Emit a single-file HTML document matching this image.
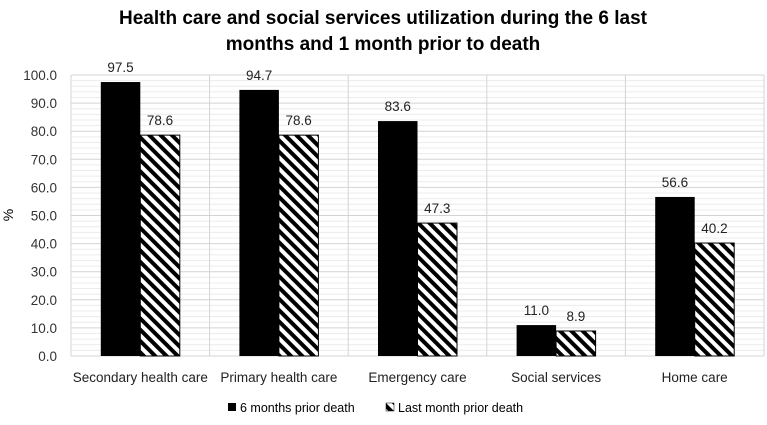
<!DOCTYPE html>
<html><head><meta charset="utf-8"><style>
body{margin:0;background:#fff;font-family:"Liberation Sans",sans-serif}
</style></head><body>
<svg id="c" width="767" height="420" xmlns="http://www.w3.org/2000/svg">
<defs><pattern id="hatch" patternUnits="userSpaceOnUse" width="8" height="8" patternTransform="rotate(-45)">
<rect width="8" height="8" fill="#fff"/><rect width="4" height="8" fill="#000"/></pattern></defs>
<text x="383" y="24" text-anchor="middle" font-size="19" font-weight="bold">Health care and social services utilization during the 6 last</text>
<text x="383" y="50" text-anchor="middle" font-size="19" font-weight="bold">months and 1 month prior to death</text>
<text transform="translate(13,215) rotate(-90)" text-anchor="middle" font-size="14">%</text>
<g id="g"></g>
<g>
<rect x="228" y="403" width="8" height="8" fill="#000"/>
<text x="240" y="412" font-size="12.5">6 months prior death</text>
<rect x="386" y="403" width="8" height="8" fill="url(#hatch)" stroke="#000" stroke-width="0.5"/>
<text x="398" y="412" font-size="12.5">Last month prior death</text>
</g>
</svg>
<script>
const categories=["Secondary health care","Primary health care","Emergency care","Social services","Home care"];
const sixMonths=[97.5,94.7,83.6,11.0,56.6];
const lastMonth=[78.6,78.6,47.3,8.9,40.2];
const yTicks=[0,10,20,30,40,50,60,70,80,90,100];
const L=71,R=764,T=75,B=356,NS="http://www.w3.org/2000/svg";
const y=v=>B-(v/100)*(B-T);
const bw=(R-L)/categories.length;
const g=document.getElementById('g');
function mk(t,a){const e=document.createElementNS(NS,t);for(const k in a)e.setAttribute(k,a[k]);g.appendChild(e);return e;}
for(let v=0;v<=100;v+=2){const l=mk('line',{x1:L,x2:R,y1:y(v),y2:y(v),stroke:v%10?'#ececec':'#d4d4d4','stroke-width':1});

}
for(let i=0;i<=categories.length;i++){const l=mk('line',{x1:L+i*bw,x2:L+i*bw,y1:T,y2:B,stroke:'#d4d4d4'});

}
yTicks.forEach(v=>{const t=mk('text',{x:L-14,y:y(v)+5,'text-anchor':'end','font-size':13.5,fill:'#333'});t.textContent=v.toFixed(1);

});
categories.forEach((c,i)=>{const cx=L+bw*(i+0.5),w=39.5;
const b1=mk('rect',{x:cx-w,y:y(sixMonths[i]),width:w,height:B-y(sixMonths[i]),fill:'#000'});


const b2=mk('rect',{x:cx,y:y(lastMonth[i]),width:w,height:B-y(lastMonth[i]),fill:'url(#hatch)',stroke:'#000','stroke-width':1});


const t1=mk('text',{x:cx-w/2,y:y(sixMonths[i])-10,'text-anchor':'middle','font-size':13.5,fill:'#222'});t1.textContent=sixMonths[i].toFixed(1);


const t2=mk('text',{x:cx+w/2,y:y(lastMonth[i])-10,'text-anchor':'middle','font-size':13.5,fill:'#222'});t2.textContent=lastMonth[i].toFixed(1);


const xl=mk('text',{x:cx,y:382,'text-anchor':'middle','font-size':13.5,fill:'#222'});xl.textContent=c;

});
</script>
</body></html>
